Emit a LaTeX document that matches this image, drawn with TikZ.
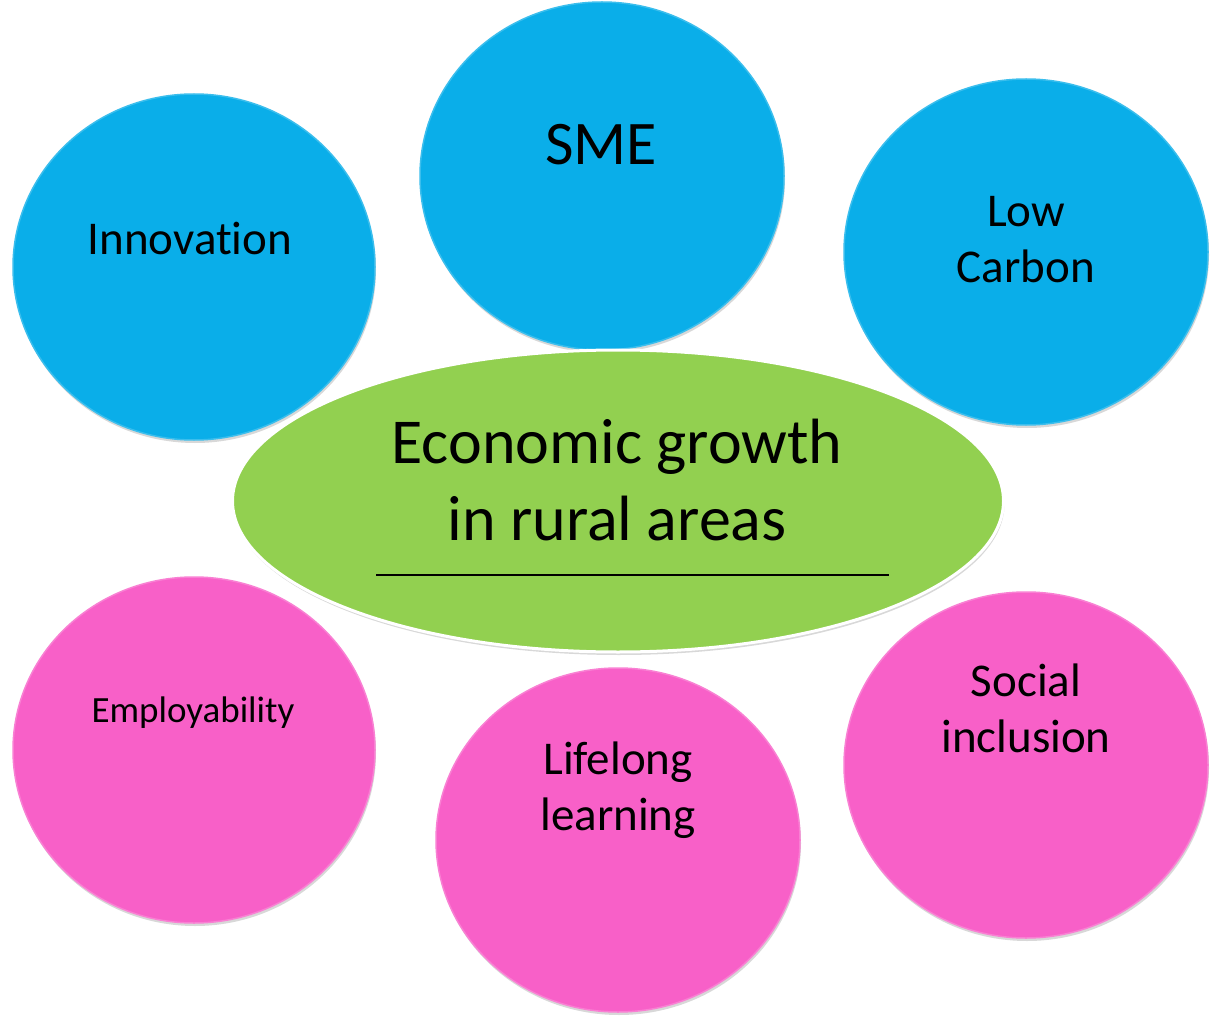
\documentclass[tikz,border=0pt]{standalone}
\usepackage{fontspec}
\setmainfont[Ligatures=NoCommon]{Carlito}
\usetikzlibrary{shapes.geometric,shadows}
\definecolor{cblue}{RGB}{10,174,233}
\definecolor{cpink}{RGB}{248,96,200}
\definecolor{cgreen}{RGB}{146,208,80}
\tikzset{
  bubble/.style={ellipse, inner sep=0pt,
    drop shadow={shadow xshift=1pt, shadow yshift=-3pt, opacity=0.25, fill=black!60}},
  bluebub/.style={bubble, fill=cblue, draw=cblue!80!white, line width=1.5pt},
  pinkbub/.style={bubble, fill=cpink, draw=cpink!80!white, line width=1.5pt},
  greenbub/.style={bubble, fill=cgreen, draw=white, line width=3pt},
  lbl/.style={anchor=base, align=center, inner sep=0pt, text=black},
  fbig/.style={font=\fontsize{47}{56}\selectfont},
}
\begin{document}
\begin{tikzpicture}[x=1pt,y=-1pt]
\useasboundingbox (0,0) rectangle (1210,1016);
\fill[white] (0,0) rectangle (1210,1016);
% top circles
\node[bluebub, minimum width=362pt, minimum height=346pt] (inno) at (194,267) {};
\node[bluebub, minimum width=364pt, minimum height=348pt] (sme) at (602,176) {};
\node[bluebub, minimum width=364pt, minimum height=346pt] (lowc) at (1026,252) {};
% bottom circles
\node[pinkbub, minimum width=362pt, minimum height=346pt] (empl) at (194,750) {};
\node[pinkbub, minimum width=364pt, minimum height=344pt] (life) at (618,840) {};
\node[pinkbub, minimum width=364pt, minimum height=346pt] (soc) at (1026,765) {};
% central ellipse
\node[greenbub, minimum width=771pt, minimum height=302pt] (econ) at (618,501) {};
% labels (base anchor = baseline of the last line)
\node[lbl, font=\fontsize{47}{56}\selectfont] (tinno) at (190,255) {Innovation};
\node[lbl, font=\fontsize{62}{70}\selectfont] (tsme) at (601,165) {SME};
\node[lbl, fbig] (tlowc) at (1026,283) {Low\\Carbon};
\node[lbl, font=\fontsize{64}{77}\selectfont] (tecon) at (617,540) {Economic growth\\in rural areas};
\node[lbl, font=\fontsize{37}{44}\selectfont] (templ) at (193,722) {Employability};
\node[lbl, fbig] (tlife) at (618,830) {Lifelong\\learning};
\node[lbl, fbig] (tsoc) at (1026,752) {Social\\inclusion};
% rule under the central text
\coordinate (rl) at (376,575);
\coordinate (rr) at (889,575);
\draw[line width=2.5pt, black] (rl) -- (rr);
\end{tikzpicture}
\end{document}
